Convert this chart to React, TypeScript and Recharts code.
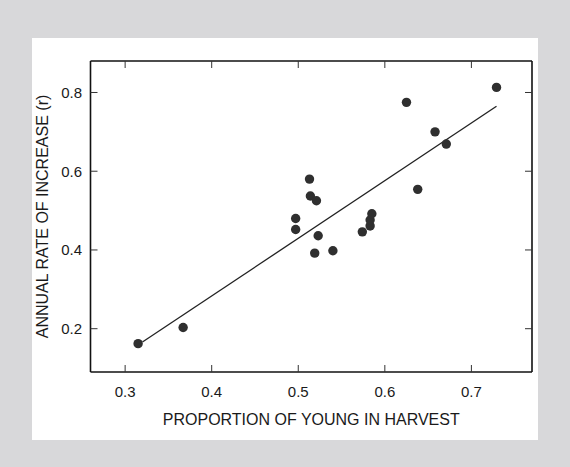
import { ComposedChart, Scatter, XAxis, YAxis } from "recharts";

// proportion of young in harvest vs annual rate of increase (r)
const youngProportion = [
  0.315, 0.367, 0.497, 0.497, 0.513, 0.514, 0.521, 0.523, 0.519, 0.54,
  0.574, 0.583, 0.583, 0.585, 0.625, 0.638, 0.658, 0.671, 0.729,
];
const rateIncrease = [
  0.162, 0.203, 0.48, 0.452, 0.58, 0.537, 0.525, 0.436, 0.392, 0.398,
  0.446, 0.461, 0.476, 0.492, 0.775, 0.554, 0.7, 0.669, 0.813,
];

// regression line end points
const fitX = [0.32, 0.729];
const fitY = [0.166, 0.765];

const xTicks = [0.3, 0.4, 0.5, 0.6, 0.7];
const yTicks = [0.2, 0.4, 0.6, 0.8];
const xDomain: [number, number] = [0.26, 0.77];
const yDomain: [number, number] = [0.09, 0.88];

const points = youngProportion.map((x, i) => ({ x, y: rateIncrease[i] }));
const fitLine = fitX.map((x, i) => ({ x, y: fitY[i] }));

const FONT = '"Liberation Sans", Arial, Helvetica, sans-serif';
const INK = "#1a1a1a";
const axisLine = { stroke: "#111", strokeWidth: 1.6 };
const tickLine = { stroke: "#333", strokeWidth: 1 };
const tickStyle = { fill: INK, fontSize: 15, fontFamily: FONT };
const fmt = (v: number) => v.toFixed(1);
const blank = () => "";

function Dot(props: { cx?: number; cy?: number }) {
  if (props.cx == null || props.cy == null) return <g />;
  return <circle cx={props.cx} cy={props.cy} r={4.7} fill="#2f2f2f" />;
}

const Empty = () => <g />;

// frame axes: mirrored so the ticks point inward, no labels
function frameX(id: string, orientation: "top" | "bottom") {
  return (
    <XAxis
      key={id}
      xAxisId={id}
      type="number"
      dataKey="x"
      orientation={orientation}
      mirror
      domain={xDomain}
      ticks={xTicks}
      allowDataOverflow
      tickSize={7}
      tickFormatter={blank}
      axisLine={axisLine}
      tickLine={tickLine}
    />
  );
}

function frameY(id: string, orientation: "left" | "right") {
  return (
    <YAxis
      key={id}
      yAxisId={id}
      type="number"
      dataKey="y"
      orientation={orientation}
      mirror
      domain={yDomain}
      ticks={yTicks}
      allowDataOverflow
      tickSize={7}
      tickFormatter={blank}
      axisLine={axisLine}
      tickLine={tickLine}
    />
  );
}

export default function App() {
  return (
    <div
      style={{
        position: "absolute",
        left: 0,
        top: 0,
        width: 570,
        height: 467,
        background: "#d8d8da",
        fontFamily: FONT,
      }}
    >
      <div
        style={{
          position: "absolute",
          left: 32,
          top: 38,
          width: 506,
          height: 402,
          background: "#ffffff",
        }}
      >
        <ComposedChart
          width={506}
          height={402}
          margin={{ top: 23, right: 6, bottom: 8, left: 0 }}
        >
          <XAxis
            xAxisId="b"
            type="number"
            dataKey="x"
            orientation="bottom"
            domain={xDomain}
            ticks={xTicks}
            allowDataOverflow
            height={60}
            tickSize={0}
            tickMargin={14}
            tickFormatter={fmt}
            tick={tickStyle}
            axisLine={false}
            tickLine={false}
            label={{
              value: "PROPORTION OF YOUNG IN HARVEST",
              position: "insideBottom",
              offset: 7.5,
              style: { fill: INK, fontSize: 16, fontFamily: FONT },
            }}
          />
          <YAxis
            yAxisId="l"
            type="number"
            dataKey="y"
            orientation="left"
            domain={yDomain}
            ticks={yTicks}
            allowDataOverflow
            width={58.5}
            tickSize={0}
            tickMargin={8.5}
            tickFormatter={fmt}
            tick={tickStyle}
            axisLine={false}
            tickLine={false}
            label={{
              value: "ANNUAL RATE OF INCREASE (r)",
              angle: -90,
              position: "insideLeft",
              offset: 10,
              style: { fill: INK, fontSize: 16, fontFamily: FONT, textAnchor: "middle" },
            }}
          />
          {frameX("bm", "bottom")}
          {frameX("tm", "top")}
          {frameY("lm", "left")}
          {frameY("rm", "right")}
          <Scatter xAxisId="bm" yAxisId="lm" data={points} shape={Empty} isAnimationActive={false} />
          <Scatter xAxisId="tm" yAxisId="rm" data={points} shape={Empty} isAnimationActive={false} />
          <Scatter
            xAxisId="b"
            yAxisId="l"
            data={fitLine}
            line={{ stroke: "#222", strokeWidth: 1.3 }}
            shape={Empty}
            isAnimationActive={false}
          />
          <Scatter
            xAxisId="b"
            yAxisId="l"
            data={points}
            shape={<Dot />}
            isAnimationActive={false}
          />
        </ComposedChart>
      </div>
    </div>
  );
}
